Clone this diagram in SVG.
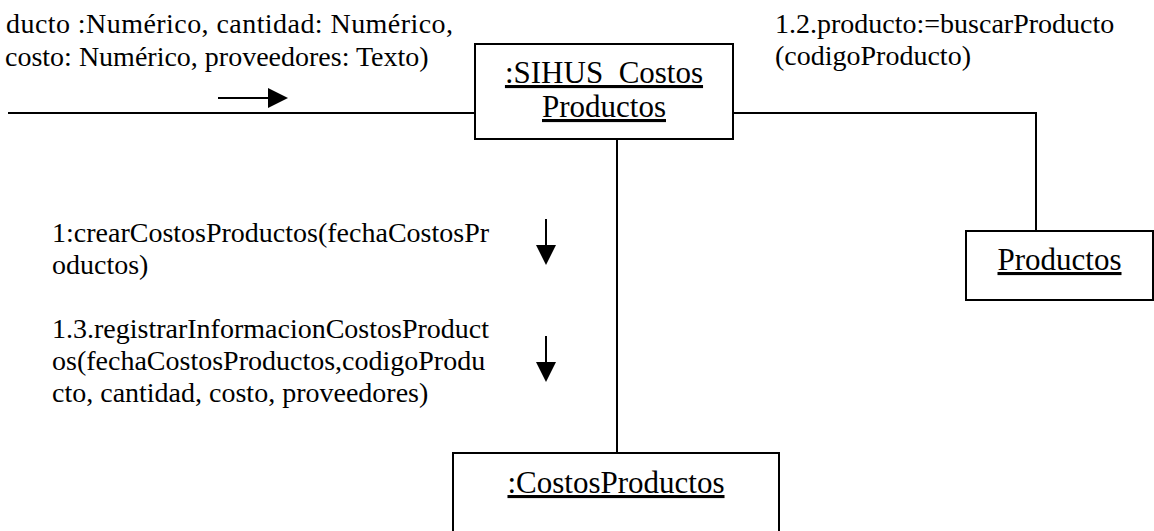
<svg xmlns="http://www.w3.org/2000/svg" width="1154" height="531" viewBox="0 0 1154 531" font-family="'Liberation Serif', 'Times New Roman', serif" font-size="28">
<defs>
<style>
text{fill:#000}
.u{text-decoration:underline;font-size:31px}
.box{fill:#fff;stroke:#000;stroke-width:2}
.ln{fill:none;stroke:#000;stroke-width:2}
.ar{stroke:#000;stroke-width:2}
</style>
</defs>
<g id="connectors">
<line class="ln" x1="8" y1="113" x2="475" y2="113"/>
<polyline class="ln" points="733,113 1036,113 1036,231"/>
<line class="ln" x1="617" y1="139" x2="617" y2="453"/>
<line class="ar" x1="218" y1="98" x2="270" y2="98"/>
<path d="M268,88 L288,98 L268,108 Z" fill="#000"/>
<line class="ar" x1="546" y1="219" x2="546" y2="247"/>
<path d="M536,245 L546,265 L556,245 Z" fill="#000"/>
<line class="ar" x1="546" y1="336" x2="546" y2="364"/>
<path d="M536,362 L546,382 L556,362 Z" fill="#000"/>
</g>
<g id="labels">
<text x="6" y="33" textLength="447" lengthAdjust="spacing">ducto :Numérico, cantidad: Numérico,</text>
<text x="5" y="66">costo: Numérico, proveedores: Texto)</text>
<text x="775" y="33">1.2.producto:=buscarProducto</text>
<text x="775" y="65">(codigoProducto)</text>
<text x="52" y="242">1:crearCostosProductos(fechaCostosPr</text>
<text x="52" y="274">oductos)</text>
<text x="52" y="338">1.3.registrarInformacionCostosProduct</text>
<text x="52" y="370">os(fechaCostosProductos,codigoProdu</text>
<text x="52" y="402">cto, cantidad, costo, proveedores)</text>
</g>
<g id="sihus">
<rect class="box" x="475" y="44" width="258" height="95"/>
<text class="u" x="604" y="83" text-anchor="middle">:SIHUS_Costos</text>
<text class="u" x="604" y="117" text-anchor="middle">Productos</text>
</g>
<g id="productos">
<rect class="box" x="966" y="231" width="187" height="69"/>
<text class="u" x="1059.5" y="270" text-anchor="middle">Productos</text>
</g>
<g id="costosproductos">
<rect class="box" x="453" y="453" width="326" height="100"/>
<text class="u" x="616" y="493" text-anchor="middle">:CostosProductos</text>
</g>
</svg>
